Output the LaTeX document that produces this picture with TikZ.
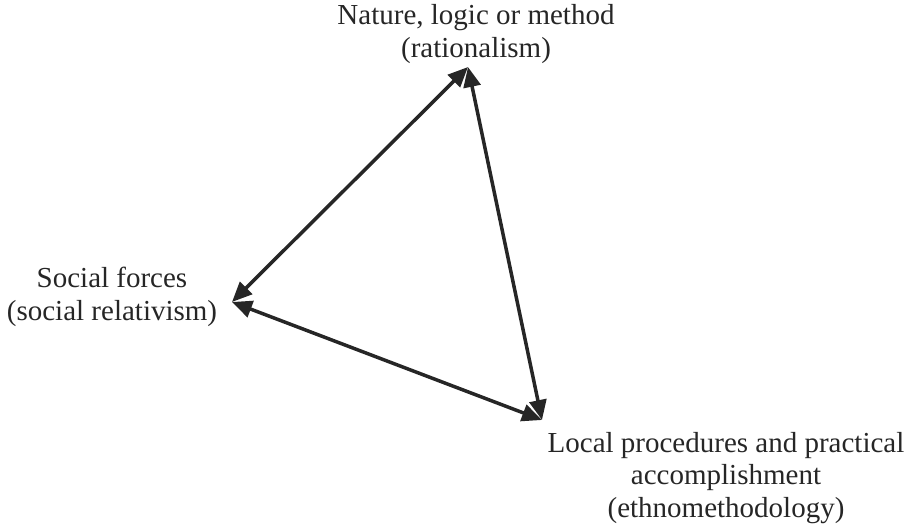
\documentclass[tikz,border=0pt]{standalone}
\usepackage{fontspec}
\setmainfont{Liberation Serif}
\usetikzlibrary{arrows.meta}
\definecolor{ink}{HTML}{262626}
\begin{document}
\begin{tikzpicture}[x=1pt,y=-1pt,
  lbl/.style={align=center,font=\fontsize{29}{32.5}\selectfont,inner sep=0pt,text=ink},
  link/.style={draw=ink,line width=3.5pt,{Triangle[length=20pt,width=17pt]}-{Triangle[length=20pt,width=17pt]}}]
\useasboundingbox (0,0) rectangle (908,527);
\coordinate (t) at (468,67);
\coordinate (l) at (232,302);
\coordinate (r) at (542,420);
\node[lbl] (tl) at (476,34) {Nature, logic or method\\(rationalism)};
\node[lbl] (ll) at (112,297) {Social forces\\(social relativism)};
\node[lbl] (rl) at (726,478) {Local procedures and practical\\accomplishment\\(ethnomethodology)};
\draw[link] (t) -- (l);
\draw[link] (l) -- (r);
\draw[link] (t) -- (r);
\end{tikzpicture}
\end{document}
